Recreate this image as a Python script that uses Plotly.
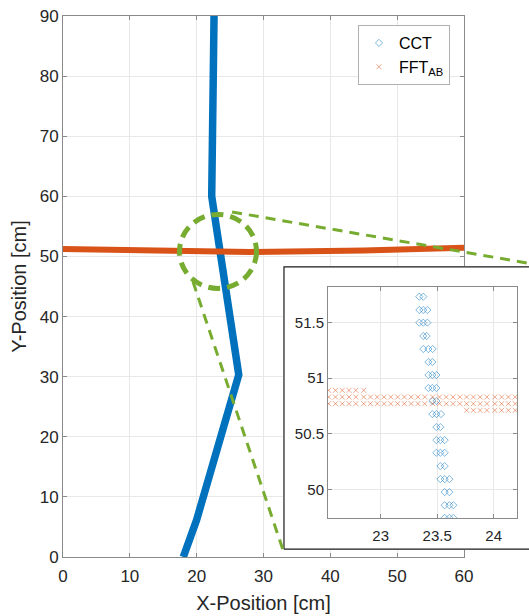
import plotly.graph_objects as go

# ---------------- data ----------------
# main view (thick tracks)
cct_main_x = [18.0, 20.0, 26.3, 22.25, 22.6]
cct_main_y = [0.0, 6.2, 30.3, 60.0, 90.0]
fft_main_x = [0.0, 15.0, 28.0, 45.0, 60.0]
fft_main_y = [51.25, 51.08, 50.75, 51.0, 51.45]

# inset: CCT samples (diamonds)
cct_x = [23.342, 23.377,
         23.342, 23.377, 23.413,
         23.342, 23.377, 23.413,
         23.377, 23.407,
         23.377, 23.422, 23.460,
         23.422, 23.457,
         23.422, 23.457, 23.493,
         23.422, 23.457, 23.493,
         23.457, 23.493,
         23.457, 23.493, 23.534,
         23.493, 23.528,
         23.493, 23.528, 23.566,
         23.493, 23.528, 23.566,
         23.528, 23.566,
         23.528, 23.566, 23.608,
         23.566, 23.608,
         23.566, 23.608, 23.643,
         23.566, 23.608, 23.643]
cct_y = [51.734, 51.734,
         51.614, 51.614, 51.614,
         51.500, 51.500, 51.500,
         51.380, 51.380,
         51.263, 51.263, 51.263,
         51.146, 51.146,
         51.029, 51.029, 51.029,
         50.912, 50.912, 50.912,
         50.795, 50.795,
         50.677, 50.677, 50.677,
         50.560, 50.560,
         50.443, 50.443, 50.443,
         50.329, 50.329, 50.329,
         50.209, 50.209,
         50.092, 50.092, 50.092,
         49.975, 49.975,
         49.857, 49.857, 49.857,
         49.743, 49.743, 49.743]

# inset: FFT_AB samples (crosses), one list per row
fft_row_full_x = [22.54, 22.60, 22.66, 22.72, 22.78, 22.85, 22.91, 22.97,
                  23.03, 23.09, 23.15, 23.21, 23.27, 23.33, 23.39, 23.46,
                  23.52, 23.58, 23.64, 23.70, 23.76, 23.82, 23.88, 23.94,
                  24.01, 24.07, 24.13, 24.19]
fft_row_left_x = [22.54, 22.60, 22.66, 22.72, 22.78, 22.85]
fft_row_right_x = [23.76, 23.82, 23.88, 23.94, 24.01, 24.07, 24.13, 24.19]
fft_row_y = [50.891, 50.831, 50.771, 50.711]

fft_x = fft_row_left_x + fft_row_full_x + fft_row_full_x + fft_row_right_x
fft_y = ([fft_row_y[0]] * len(fft_row_left_x) + [fft_row_y[1]] * len(fft_row_full_x)
         + [fft_row_y[2]] * len(fft_row_full_x) + [fft_row_y[3]] * len(fft_row_right_x))

x_ticks_main = [0, 10, 20, 30, 40, 50, 60]
y_ticks_main = [0, 10, 20, 30, 40, 50, 60, 70, 80, 90]
x_ticks_inset = [23, 23.5, 24]
y_ticks_inset = [50, 50.5, 51, 51.5]

# zoom circle (data coords of main view)
circle_x = [17.43, 28.95]
circle_y = [44.68, 56.99]
# connector start points (main data coords)
conn_upper_start = (25.3, 57.4)
conn_lower_start = (19.45, 45.8)

# ---------------- style / layout ----------------
BLUE = "#0072BD"
ORANGE = "#D95319"
GREEN = "#77AC30"
FONT = "Liberation Sans, Arial, sans-serif"
TXT = "#262626"
AX = "#8a8a8a"
GRID = "#e8e8e8"

W, H = 529, 616
ML, MR, MT, MB = 63, 0, 16, 59
PW, PH = W - ML - MR, H - MT - MB

main_xr = [0, 60]
main_yr = [0, 90]
main_xdom = [0, (464 - ML) / PW]
main_ydom = [0, 1]

box_xdom = [(283 - ML) / PW, 1.0]
box_ydom = [(557 - 550) / PH, (557 - 266) / PH]

ins_xdom = [(328 - ML) / PW, (517 - ML) / PW]
ins_ydom = [(557 - 518) / PH, (557 - 287) / PH]
ins_xr = [22.534, 24.206]
ins_yr = [49.742, 51.821]


def main_to_paper(x, y):
    px = main_xdom[0] + (x - main_xr[0]) / (main_xr[1] - main_xr[0]) * (main_xdom[1] - main_xdom[0])
    py = main_ydom[0] + (y - main_yr[0]) / (main_yr[1] - main_yr[0]) * (main_ydom[1] - main_ydom[0])
    return px, py


fig = go.Figure()

# main tracks
fig.add_trace(go.Scatter(x=cct_main_x, y=cct_main_y, mode="lines",
                         line=dict(color=BLUE, width=7.5), showlegend=False,
                         hoverinfo="skip", xaxis="x", yaxis="y"))
fig.add_trace(go.Scatter(x=fft_main_x, y=fft_main_y, mode="lines",
                         line=dict(color=ORANGE, width=6), showlegend=False,
                         hoverinfo="skip", xaxis="x", yaxis="y"))

# inset background box
fig.add_trace(go.Scatter(x=[0.004, 1.2, 1.2, 0.004, 0.004],
                         y=[0.003, 0.003, 0.997, 0.997, 0.003],
                         mode="lines", fill="toself", fillcolor="white",
                         line=dict(color="#1a1a1a", width=1.2),
                         showlegend=False, hoverinfo="skip",
                         xaxis="x2", yaxis="y2"))

# inset samples
fig.add_trace(go.Scatter(x=cct_x, y=cct_y, mode="markers", name="CCT",
                         marker=dict(symbol="diamond-open", size=5.5,
                                     color="rgba(0,114,189,0.5)",
                                     line=dict(width=1, color="rgba(0,114,189,0.5)")),
                         xaxis="x3", yaxis="y3"))
fig.add_trace(go.Scatter(x=fft_x, y=fft_y, mode="markers", name="FFT<sub>AB</sub>",
                         marker=dict(symbol="x-thin-open", size=5,
                                     color="rgba(217,83,25,0.5)",
                                     line=dict(width=1, color="rgba(217,83,25,0.5)")),
                         xaxis="x3", yaxis="y3"))

# zoom circle
fig.add_shape(type="circle", xref="x", yref="y",
              x0=circle_x[0], x1=circle_x[1], y0=circle_y[0], y1=circle_y[1],
              line=dict(color=GREEN, width=5, dash="12px,7px"), layer="above")

# connectors
ux, uy = main_to_paper(*conn_upper_start)
lx, ly = main_to_paper(*conn_lower_start)
fig.add_shape(type="line", xref="paper", yref="paper",
              x0=ux, y0=uy, x1=box_xdom[1] + 0.02, y1=box_ydom[1] + 0.002,
              line=dict(color=GREEN, width=3, dash="10px,7px"), layer="above")
fig.add_shape(type="line", xref="paper", yref="paper",
              x0=lx, y0=ly, x1=box_xdom[0], y1=box_ydom[0],
              line=dict(color=GREEN, width=3, dash="10px,7px"), layer="above")

common_ax = dict(showline=True, linecolor=AX, linewidth=1, mirror="ticks",
                 ticks="inside", ticklen=4, tickcolor=AX, gridcolor=GRID,
                 gridwidth=1, zeroline=False, automargin=False,
                 tickfont=dict(family=FONT, size=17, color=TXT))

fig.update_layout(
    width=W, height=H,
    margin=dict(l=ML, r=MR, t=MT, b=MB, pad=0, autoexpand=False),
    paper_bgcolor="white", plot_bgcolor="white",
    font=dict(family=FONT, color=TXT),
    xaxis=dict(domain=main_xdom, range=main_xr, tickvals=x_ticks_main,
               title=dict(text="X-Position [cm]", font=dict(size=20, color=TXT), standoff=10),
               anchor="y", ticklabelstandoff=4, **common_ax),
    yaxis=dict(domain=main_ydom, range=main_yr, tickvals=y_ticks_main,
               title=dict(text="Y-Position [cm]", font=dict(size=20, color=TXT), standoff=7),
               anchor="x", **common_ax),
    xaxis2=dict(domain=box_xdom, range=[0, 1], visible=False, anchor="y2", fixedrange=True),
    yaxis2=dict(domain=box_ydom, range=[0, 1], visible=False, anchor="x2", fixedrange=True),
    xaxis3=dict(domain=ins_xdom, range=ins_xr, tickvals=x_ticks_inset,
                ticktext=["23", "23.5", "24"], anchor="y3", ticklabelstandoff=4,
                **{**common_ax, "tickfont": dict(family=FONT, size=15, color=TXT)}),
    yaxis3=dict(domain=ins_ydom, range=ins_yr, tickvals=y_ticks_inset,
                ticktext=["50", "50.5", "51", "51.5"], anchor="x3",
                **{**common_ax, "tickfont": dict(family=FONT, size=15, color=TXT)}),
    legend=dict(x=(358 - ML) / PW, y=(557 - 25) / PH, xanchor="left", yanchor="top",
                bgcolor="white", bordercolor="#b0b0b0", borderwidth=1,
                font=dict(family=FONT, size=16, color="black"),
                tracegroupgap=0, itemwidth=30),
    showlegend=True,
)

fig.write_html("out.html", config={"displayModeBar": False},
               post_script="document.body.style.margin='0';document.body.style.padding='0';")
